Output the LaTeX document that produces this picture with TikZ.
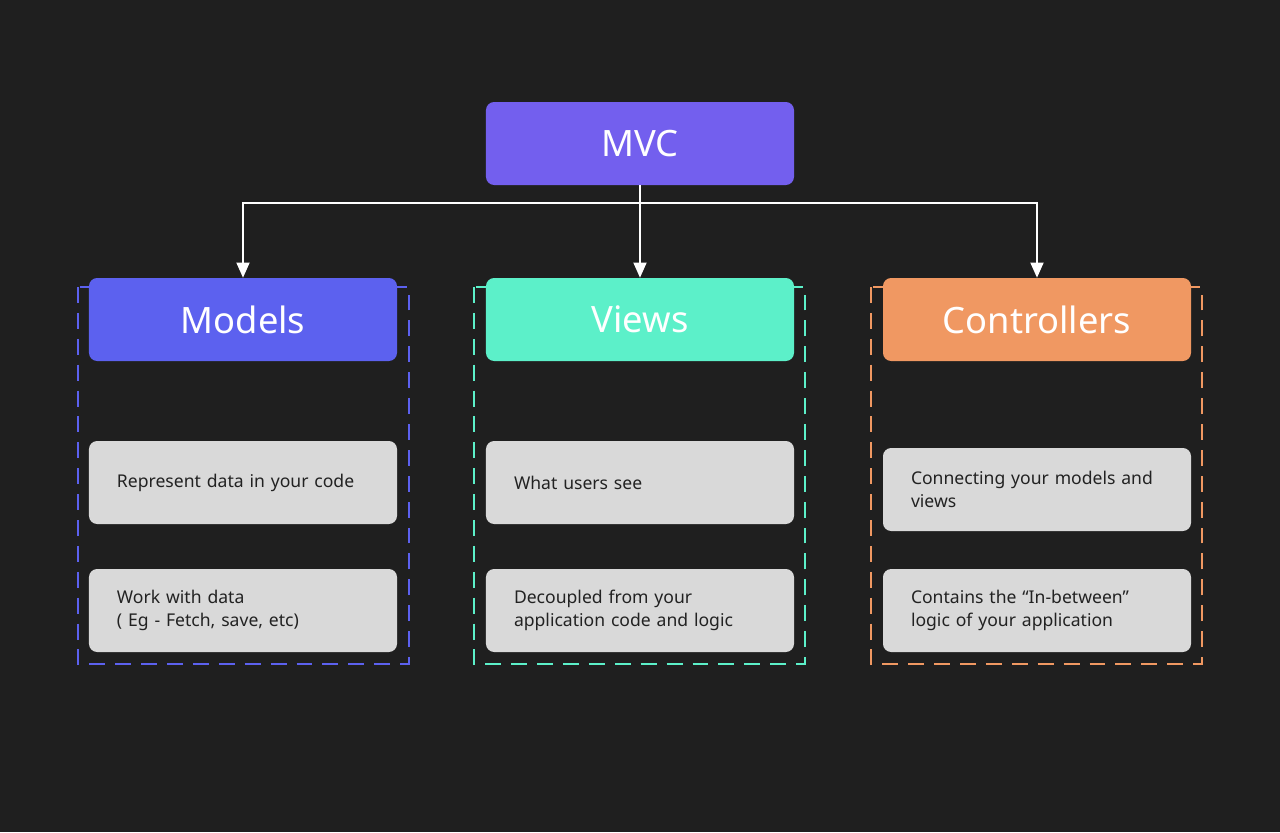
\documentclass[tikz,border=0pt]{standalone}
\usepackage{fontspec}
\setmainfont{Noto Sans}
\usetikzlibrary{arrows.meta}
\definecolor{bg}{HTML}{1F1F1F}
\definecolor{mvcpurple}{HTML}{735FEE}
\definecolor{modelblue}{HTML}{5C61EF}
\definecolor{viewgreen}{HTML}{5CF0C9}
\definecolor{ctrlorange}{HTML}{F09862}
\definecolor{cardgray}{HTML}{D9D9D9}
\definecolor{cardtext}{HTML}{222222}
\begin{document}
\begin{tikzpicture}[x=0.03cm, y=-0.03cm,
  head/.style={rounded corners=7pt, minimum width=9.24cm, minimum height=2.49cm, inner sep=0pt, text=white, font=\fontsize{31}{36}\selectfont},
  card/.style={rounded corners=7pt, fill=cardgray, text width=7.56cm, inner xsep=0.84cm, minimum height=2.49cm, align=left, text=cardtext, font=\fontsize{15}{19}\selectfont},
  frame/.style={line width=1.7pt, dash pattern=on 13.6pt off 8.5pt},
  conn/.style={draw=white, line width=1.9pt, -{Triangle[length=13pt, width=11pt]}}]
\useasboundingbox (0,0) rectangle (1280,832);
\fill [bg] (0,0) rectangle (1280,832);

\draw [frame, draw=modelblue] (78,287) rectangle (409,664);
\draw [frame, draw=viewgreen] (474,287) rectangle (805,664);
\draw [frame, draw=ctrlorange] (871,287) rectangle (1202,664);

\node [head, fill=mvcpurple] (mvc) at (640,143.5) {MVC};
\node [head, fill=modelblue] (models) at (243,319.5) {Models};
\node [head, fill=viewgreen] (views) at (640,319.5) {Views};
\node [head, fill=ctrlorange] (controllers) at (1037,319.5) {Controllers};

\node [card] (represent) at (243,482.5) {Represent data in your code};
\node [card] (work) at (243,610.5) {Work with data\\( Eg - Fetch, save, etc)};
\node [card] (see) at (640,482.5) {What users see};
\node [card] (decoupled) at (640,610.5) {Decoupled from your\\application code and logic};
\node [card] (connecting) at (1037,489.5) {Connecting your models and\\views};
\node [card] (contains) at (1037,610.5) {Contains the “In-between”\\logic of your application};

\coordinate (split) at (640,203);
\draw [draw=white, line width=1.9pt] (mvc.south) -- (split);
\draw [conn] (split) -| (models.north);
\draw [conn] (split) -- (views.north);
\draw [conn] (split) -| (controllers.north);
\end{tikzpicture}
\end{document}
